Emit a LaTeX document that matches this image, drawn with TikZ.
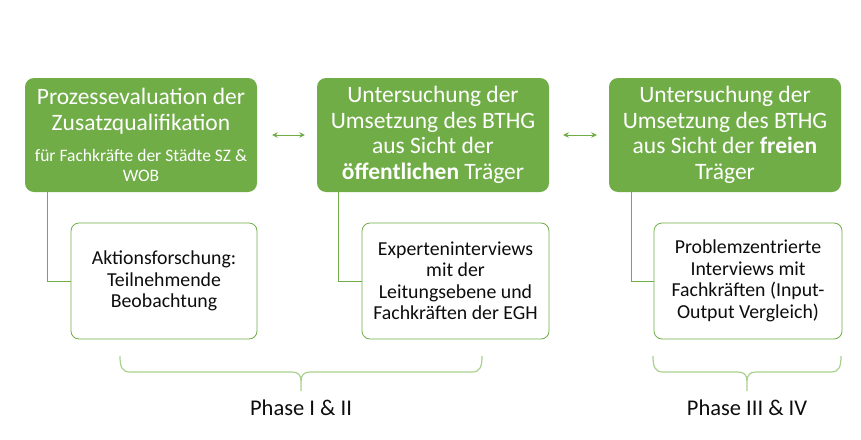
\documentclass[tikz,border=0pt]{standalone}
\usepackage{fontspec}
\setmainfont{Carlito}
\usetikzlibrary{arrows.meta}
\definecolor{pgreen}{HTML}{70AD47}
\definecolor{lgreen}{HTML}{A9D18E}
\definecolor{ptext}{HTML}{0D0D0D}
\newcommand{\smallgreen}{\fontsize{17.5}{19.5}\selectfont}
\begin{document}
\begin{tikzpicture}[x=1pt,y=-1pt,
 gbox/.style={fill=pgreen, draw=none, rounded corners=9pt, minimum width=232pt, minimum height=114pt, text=white, align=center, inner sep=0pt, font=\fontsize{23.5}{25.5}\selectfont},
 wbox/.style={draw=pgreen, line width=0.8pt, fill=white, rounded corners=8pt, minimum height=116pt, align=center, inner sep=0pt, text=ptext, font=\fontsize{19.8}{21.5}\selectfont},
 link/.style={draw=pgreen, line width=0.9pt},
 dblarrow/.style={draw=pgreen, line width=1pt, {Stealth[length=5.5pt,width=5.5pt]}-{Stealth[length=5.5pt,width=5.5pt]}},
 bracepath/.style={draw=lgreen, line width=1.2pt},
 phase/.style={text=ptext, font=\fontsize{22.5}{25}\selectfont}
]
\useasboundingbox (0,0) rectangle (861,439);

\node[gbox] (g1) at (141,135) {Prozessevaluation der\\Zusatzqualifikation\\[6pt]\smallgreen für Fachkräfte der Städte SZ \&\\[-6pt]\smallgreen WOB};
\node[gbox] (g2) at (433,135) {Untersuchung der\\Umsetzung des BTHG\\aus Sicht der\\\textbf{öffentlichen} Träger};
\node[gbox] (g3) at (725,135) {Untersuchung der\\Umsetzung des BTHG\\aus Sicht der \textbf{freien}\\Träger};

\node[wbox, minimum width=186pt] (w1) at (164,281) {Aktionsforschung:\\Teilnehmende\\Beobachtung};
\node[wbox, minimum width=187pt] (w2) at (455.5,281) {Experteninterviews\\mit der\\Leitungsebene und\\Fachkräften der EGH};
\node[wbox, minimum width=188pt] (w3) at (748,281) {Problemzentrierte\\Interviews mit\\Fachkräften (Input-\\Output Vergleich)};

\draw[link] ([xshift=23pt]g1.south west) |- (w1.west);
\draw[link] ([xshift=22pt]g2.south west) |- (w2.west);
\draw[link] ([xshift=23pt]g3.south west) |- (w3.west);

\draw[dblarrow, shorten <=15pt, shorten >=12pt] (g1.east) -- (g2.west);
\draw[dblarrow, shorten <=14pt, shorten >=12pt] (g2.east) -- (g3.west);

\draw[bracepath] (120,356) .. controls (120,367) and (122,372) .. (130,372) -- (292,372) .. controls (298,372) and (301,375) .. (301,381) -- (301,391);
\draw[bracepath] (482,356) .. controls (482,367) and (480,372) .. (472,372) -- (310,372) .. controls (304,372) and (301,375) .. (301,381);
\draw[bracepath] (653,356) .. controls (653,367) and (655,372) .. (663,372) -- (738,372) .. controls (744,372) and (747,375) .. (747,381) -- (747,391);
\draw[bracepath] (841,356) .. controls (841,367) and (839,372) .. (831,372) -- (756,372) .. controls (750,372) and (747,375) .. (747,381);

\node[phase] (p1) at (301,408) {Phase I \& II};
\node[phase] (p2) at (747,408) {Phase III \& IV};
\end{tikzpicture}
\end{document}
